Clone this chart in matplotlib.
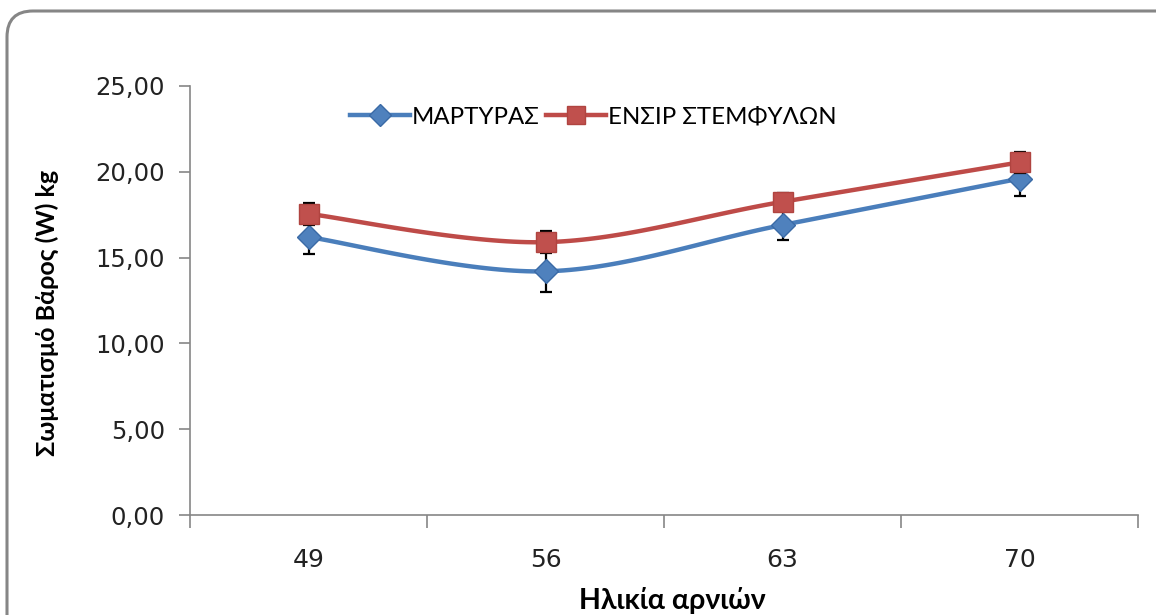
import numpy as np
import matplotlib
matplotlib.use("Agg")
import matplotlib.pyplot as plt
from matplotlib.patches import FancyBboxPatch
from matplotlib.transforms import IdentityTransform

# ---- data ----
categories = ["49", "56", "63", "70"]
martyras = [16.2, 14.2, 16.9, 19.6]
martyras_err = [1.0, 1.2, 0.9, 1.0]
ensir = [17.55, 15.9, 18.25, 20.55]
ensir_err = [0.65, 0.65, 0.5, 0.6]
series_names = ["ΜΑΡΤΥΡΑΣ", "ΕΝΣΙΡ ΣΤΕΜΦΥΛΩΝ"]
yticks = [0, 5, 10, 15, 20, 25]
ytick_labels = ["0,00", "5,00", "10,00", "15,00", "20,00", "25,00"]


def smooth(x, y, n=40, t=0.5):
    # Excel-like smoothed line: cardinal spline through the data points
    x = np.asarray(x, float); y = np.asarray(y, float)
    P = np.column_stack([x, y])
    P = np.vstack([P[0], P, P[-1]])
    out = []
    for i in range(1, len(P) - 2):
        p0, p1, p2, p3 = P[i - 1], P[i], P[i + 1], P[i + 2]
        m1 = (p2 - p0) * t
        m2 = (p3 - p1) * t
        s = np.linspace(0, 1, n)[:, None]
        h00 = 2 * s**3 - 3 * s**2 + 1
        h10 = s**3 - 2 * s**2 + s
        h01 = -2 * s**3 + 3 * s**2
        h11 = s**3 - s**2
        seg = h00 * p1 + h10 * m1 + h01 * p2 + h11 * m2
        out.append(seg if i == 1 else seg[1:])
    out = np.vstack(out)
    return out[:, 0], out[:, 1]


W, H = 1156, 615
fig = plt.figure(figsize=(W / 100, H / 100), dpi=100)
ax = fig.add_axes([190 / W, 1 - 515 / H, (1138 - 190) / W, (515 - 86) / H])

# rounded figure border (pixel coordinates, origin bottom-left)
border = FancyBboxPatch((7, -40), 1200, H - 11 + 40,
                        boxstyle="round,pad=0,rounding_size=26",
                        transform=IdentityTransform(), fill=False,
                        edgecolor="#868686", linewidth=2.2, clip_on=False)
fig.patches.append(border)

x = np.arange(len(categories))
blue = "#4a7ebb"
red = "#be4b48"

ax.errorbar(x, martyras, yerr=martyras_err, fmt="none", ecolor="black",
            elinewidth=1.6, capsize=4.5, capthick=1.6, zorder=2)
sx, sy = smooth(x, martyras)
ax.plot(sx, sy, color=blue, lw=3.2, zorder=3, solid_capstyle="round")
ax.plot(x, martyras, ls="none", marker="D", ms=12, color="#4f81bd",
        mec="#3a6aa6", mew=1, zorder=4)

ax.errorbar(x, ensir, yerr=ensir_err, fmt="none", ecolor="black",
            elinewidth=1.6, capsize=4.5, capthick=1.6, zorder=5)
sx, sy = smooth(x, ensir)
ax.plot(sx, sy, color=red, lw=3.2, zorder=6, solid_capstyle="round")
ax.plot(x, ensir, ls="none", marker="s", ms=14.5, color="#c0504d",
        mec="#b04440", mew=1, zorder=7)

# legend proxies
h1, = ax.plot([], [], color=blue, lw=3.2, marker="D", ms=11, mfc="#4f81bd", mec="#3a6aa6")
h2, = ax.plot([], [], color=red, lw=3.2, marker="s", ms=13, mfc="#c0504d", mec="#b04440")
leg = ax.legend([h1, h2], series_names, ncol=2, frameon=False,
                loc="center left", bbox_to_anchor=(150 / 948, (515 - 117) / 429),
                prop={"family": "Lato", "size": 17.3}, handlelength=2.5,
                handletextpad=0.1, columnspacing=0.25, borderaxespad=0)

ax.set_xlim(-0.5, len(categories) - 0.5)
ax.set_ylim(0, 25)
ax.set_yticks(yticks)
ax.set_yticklabels(ytick_labels, fontsize=17.5, color="#222222")
ax.set_xticks(x)
ax.set_xticklabels(categories, fontsize=18, color="#222222")
ax.set_xticks(np.arange(len(categories) + 1) - 0.5, minor=True)
ax.tick_params(axis="x", which="major", length=0, pad=24)
ax.tick_params(axis="x", which="minor", length=9, width=1.2, color="#868686", direction="out")
ax.tick_params(axis="y", length=8, width=1.2, color="#868686", pad=10)

for s in ["top", "right"]:
    ax.spines[s].set_visible(False)
for s in ["left", "bottom"]:
    ax.spines[s].set_color("#868686")
    ax.spines[s].set_linewidth(1.2)

fig.text(47 / W, 1 - 313 / H, "Σωματισμό Βάρος (W) kg", rotation=90,
         ha="center", va="center", fontsize=18, fontweight="bold", family="Lato")
fig.text(672 / W, 1 - 601 / H, "Ηλικία αρνιών", ha="center", va="center",
         fontsize=20.5, fontweight="bold", family="Lato")

fig.savefig("out.png", dpi=100)
